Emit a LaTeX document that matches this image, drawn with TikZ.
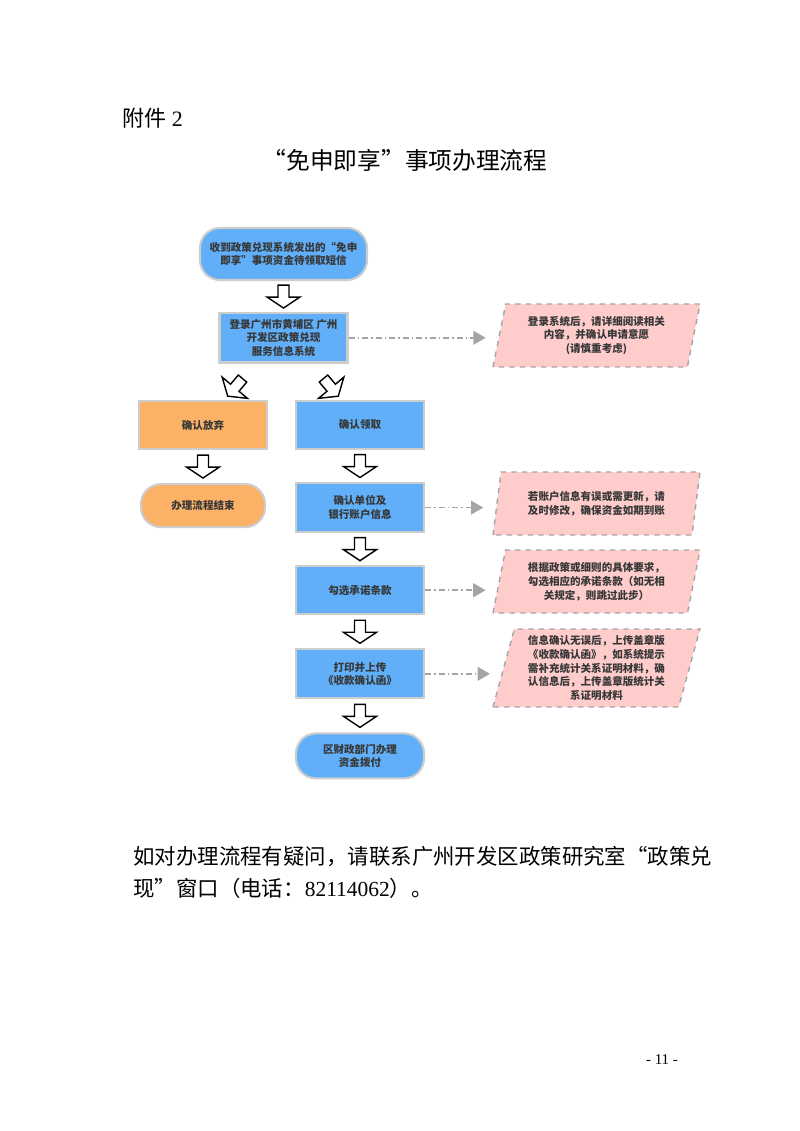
\documentclass[tikz,border=0pt]{standalone}
\usepackage{fontspec}
\setmainfont{Liberation Serif}
\newfontfamily\cjk{Noto Sans CJK SC}
\usetikzlibrary{positioning, arrows, shapes.geometric, calc}
\newlength\pxu
\setlength\pxu{0.02cm}
\definecolor{stepblue}{RGB}{97,175,248}
\definecolor{quitorange}{RGB}{252,178,102}
\definecolor{notepink}{RGB}{255,204,204}
\definecolor{linegray}{RGB}{205,205,205}
\definecolor{hintgray}{RGB}{165,165,165}
\definecolor{inkgray}{RGB}{55,55,55}
\tikzset{
x=1\pxu, y=-1\pxu, % one unit is one pixel of the page, y runs downwards
>=triangle 60, % filled heads for the hint lines
box/.style={draw=linegray, line width=1.2pt, fill=stepblue, text=inkgray, minimum width=128\pxu, minimum height=49\pxu, align=center, font=\cjk\bfseries\fontsize{6}{7.8}\selectfont}, % one step of the flow
quit/.style={box, fill=quitorange}, % the branch that gives up
terminal/.style={box, rounded corners=20\pxu}, % first and last steps
note/.style={trapezium, trapezium left angle=72, trapezium right angle=108, trapezium stretches body, draw=hintgray, dashed, line width=0.8pt, fill=notepink, text=inkgray, minimum width=207\pxu, inner sep=0pt, align=center, font=\cjk\bfseries\fontsize{6}{7.9}\selectfont}, % hints on the right
hint/.style={->, draw=hintgray, line width=0.9pt, dash pattern=on 6\pxu off 3\pxu on 1.5\pxu off 3\pxu, shorten >=13\pxu}, % dash-dot line to a hint
hollow/.pic={\draw[fill=white, line width=0.8pt, line join=miter] (-5.5,0) -- (5.5,0) -- (5.5,12) -- (16.5,12) -- (0,23) -- (-16.5,12) -- (-5.5,12) -- cycle;}, % white block arrow
}

\begin{document}
\begin{tikzpicture}
    \useasboundingbox (0,0) rectangle (800,1131);
    \node[anchor=west, inner sep=0pt, font=\fontsize{12.5}{15}\selectfont] (annex) at (122,118) {{\cjk 附件} 2};
    \node[font=\cjk\fontsize{13.5}{16}\selectfont] (title) at (405,160) {“免申即享”事项办理流程};

    \node[terminal, minimum width=167\pxu, minimum height=52\pxu] (start) at (283.5,254) {收到政策兑现系统发出的“免申\\即享”事项资金待领取短信};
    \node[box, below=31\pxu of start] (login) {登录广州市黄埔区 广州\\开发区政策兑现\\服务信息系统};
    \node[quit, minimum height=48\pxu] (giveup) at (203,425) {确认放弃};
    \node[box, minimum height=48\pxu] (claim) at (360,425) {确认领取};
    \node[terminal, fill=quitorange, minimum width=124\pxu, minimum height=43\pxu, below=33\pxu of giveup] (finish) {办理流程结束};
    \node[box, below=32\pxu of claim] (bank) {确认单位及\\银行账户信息};
    \node[box, minimum height=48\pxu, below=32\pxu of bank] (terms) {勾选承诺条款};
    \node[box, below=33\pxu of terms] (upload) {打印并上传\\《收款确认函》};
    \node[terminal, minimum height=45\pxu, below=33\pxu of upload] (pay) {区财政部门办理\\资金拨付};

    \node[note, minimum height=63\pxu] (n1) at (596.5,335.5) {登录系统后，请详细阅读相关\\内容，并确认申请意愿\\(请慎重考虑)};
    \node[note, minimum height=63\pxu] (n2) at (596.5,503.5) {若账户信息有误或需更新，请\\及时修改，确保资金如期到账};
    \node[note, minimum height=63\pxu] (n3) at (596.5,581.5) {根据政策或细则的具体要求，\\勾选相应的承诺条款（如无相\\关规定，则跳过此步）};
    \node[note, minimum height=78\pxu] (n4) at (596.5,668) {信息确认无误后，上传盖章版\\《收款确认函》，如系统提示\\需补充统计关系证明材料，确\\认信息后，上传盖章版统计关\\系证明材料};

    \draw[hint] (login.east) -- (login.east -| n1.west);
    \draw[hint] (bank.east) -- (bank.east -| n2.west);
    \draw[hint] (terms.east) -- (terms.east -| n3.west);
    \draw[hint] (upload.east) -- (upload.east -| n4.west);

    \pic at ($(start.south)!0.5!(login.north)+(0,-11.5)$) {hollow};
    \pic[rotate=-40] at ($(login.south)+(-41,15)$) {hollow};
    \pic[rotate=40] at ($(login.south)+(40,15)$) {hollow};
    \pic at ($(giveup.south)!0.5!(finish.north)+(0,-11.5)$) {hollow};
    \pic at ($(claim.south)!0.5!(bank.north)+(0,-11.5)$) {hollow};
    \pic at ($(bank.south)!0.5!(terms.north)+(0,-11.5)$) {hollow};
    \pic at ($(terms.south)!0.5!(upload.north)+(0,-11.5)$) {hollow};
    \pic at ($(upload.south)!0.5!(pay.north)+(0,-11.5)$) {hollow};

    \node[anchor=west, inner sep=0pt, font=\cjk\fontsize{12.2}{15}\selectfont] (ask) at (133,857) {如对办理流程有疑问，请联系广州开发区政策研究室“政策兑};
    \node[anchor=west, inner sep=0pt, font=\cjk\fontsize{12.2}{15}\selectfont] (ask2) at (133,888) {现”窗口（电话：{\rmfamily 82114062}）。};
    \node[font=\fontsize{8.5}{10}\selectfont] (pageno) at (662,1060) {- 11 -};
\end{tikzpicture}
\end{document}
